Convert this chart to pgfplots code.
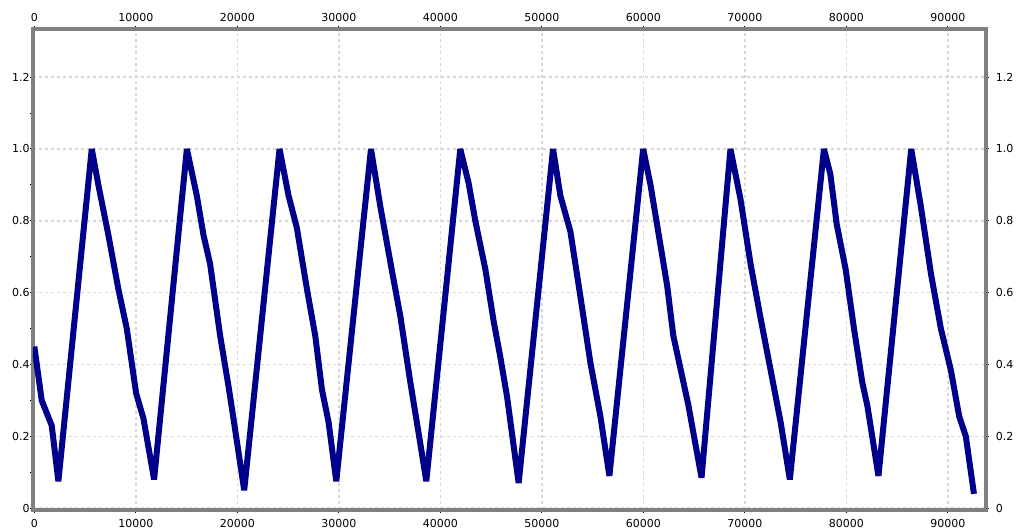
\documentclass[border=0pt]{standalone}
\usepackage{fontspec}
\setmainfont{DejaVu Sans}
\usepackage{pgfplots}
\usepackage{pgfplotstable}
\pgfplotsset{compat=1.18}
\definecolor{navyline}{RGB}{0,0,139}
\definecolor{framegray}{RGB}{128,128,128}
\definecolor{gridgray}{RGB}{215,215,215}
\pgfplotstableread{
x y
0 0.45
730 0.30
1715 0.23
2370 0.075
5660 1.0
6310 0.90
7300 0.76
8280 0.61
9110 0.50
10030 0.32
10750 0.25
11800 0.08
15030 1.0
16010 0.87
16670 0.76
17320 0.68
18310 0.48
19130 0.34
19620 0.25
20680 0.05
24160 1.0
25050 0.87
25870 0.78
26860 0.61
27680 0.48
28340 0.33
28990 0.24
29750 0.075
33170 1.0
34090 0.84
35240 0.66
36060 0.535
37050 0.35
38030 0.18
38620 0.075
41970 1.0
42790 0.905
43450 0.80
44440 0.665
45260 0.52
45920 0.42
46580 0.31
47720 0.07
51110 1.0
51830 0.87
52820 0.77
53800 0.59
54790 0.405
55780 0.255
56660 0.09
59990 1.0
60710 0.90
61530 0.76
62350 0.62
62960 0.48
64420 0.29
65740 0.085
68590 1.0
69580 0.86
70570 0.68
71550 0.53
72540 0.385
73530 0.24
74440 0.08
77800 1.0
78430 0.93
79060 0.79
79940 0.665
80760 0.50
81580 0.35
82080 0.285
83170 0.09
86400 1.0
87350 0.84
88330 0.655
89320 0.50
90300 0.385
91130 0.255
91780 0.20
92580 0.04
}\datatable
\begin{document}
\begin{tikzpicture}
\path[use as bounding box] (0,0) rectangle (508pt,264.5pt);
\pgfplotsset{common/.style={
  at={(16.4pt,9.5pt)}, anchor=south west, scale only axis,
  width=476.45pt, height=240.5pt,
  xmin=-150, xmax=93740, ymin=-0.005, ymax=1.334,
  xtick={0,10000,20000,30000,40000,50000,60000,70000,80000,90000},
  xticklabels={0,10000,20000,30000,40000,50000,60000,70000,80000,90000},
  ytick={0,0.2,0.4,0.6,0.8,1.0,1.2},
  yticklabels={0,0.2,0.4,0.6,0.8,1.0,1.2},
  ticklabel style={font=\fontsize{5.5}{6.6}\selectfont, black},
  /pgf/number format/assume math mode=true,
}}
\begin{axis}[common,
  tick pos=both, tick align=outside,
  minor x tick num=4, minor y tick num=1,
  major tick length=1.5pt, minor tick length=1.2pt,
  tick style={black, line width=0.5pt},
  grid=major,
  major grid style={gridgray, dash pattern=on 1.5pt off 1.5pt, line width=0.75pt},
  axis line style={framegray, line width=1.8pt},
  xticklabel pos=lower, yticklabel pos=left,
  xticklabel style={yshift=0.3pt},
  yticklabel style={xshift=3.4pt},
]
\addplot[navyline, line width=3pt, line join=bevel] table[x=x, y=y] {\datatable};
\end{axis}
\begin{axis}[common,
  xticklabel pos=upper, yticklabel pos=right,
  axis line style={draw=none}, tick style={draw=none},
  major tick length=0pt, minor tick num=0,
  xticklabel style={yshift=0pt},
  yticklabel style={xshift=1.5pt},
]
\end{axis}
\end{tikzpicture}
\end{document}
